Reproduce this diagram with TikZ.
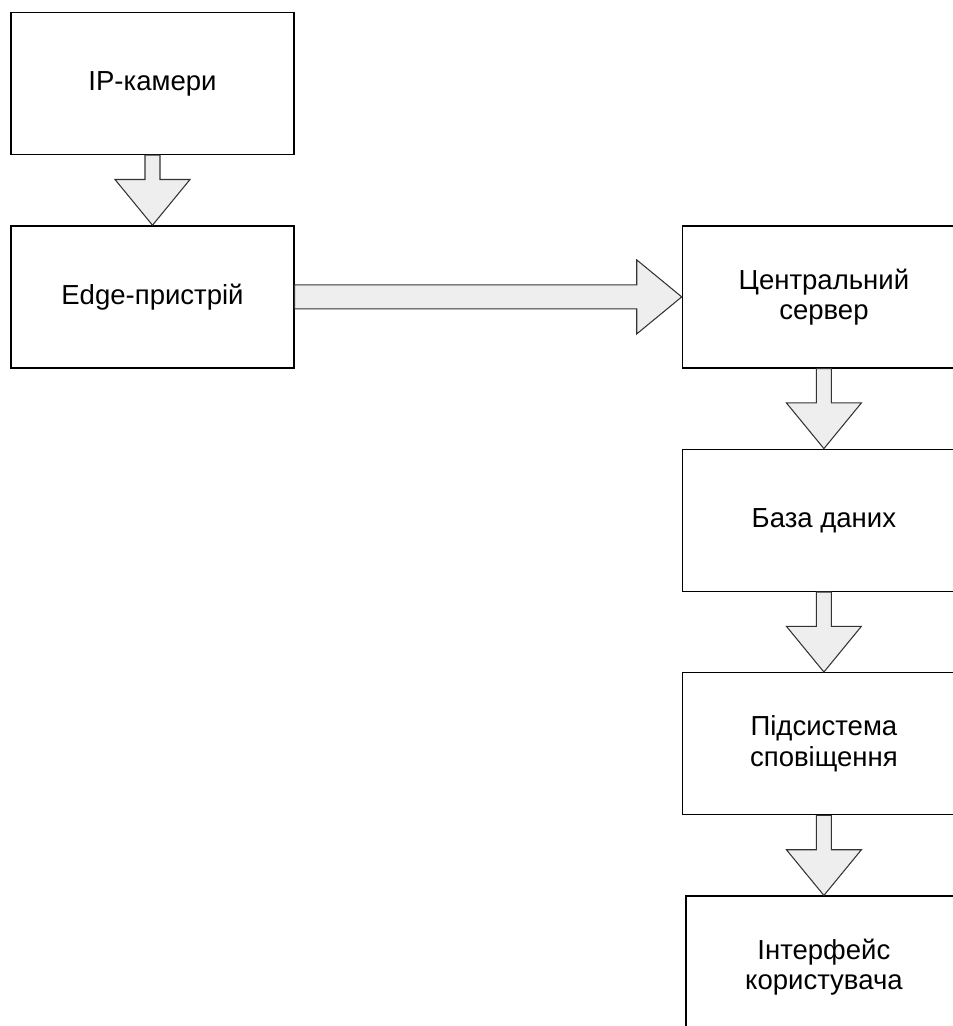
\documentclass[tikz,border=0pt]{standalone}
\usepackage{fontspec}
\setmainfont{Liberation Sans}
\usepackage{tikz}
\usetikzlibrary{positioning,calc}

\definecolor{arrowfill}{HTML}{EEEEEE}
\definecolor{arrowline}{HTML}{333333}

\begin{document}
\begin{tikzpicture}[node distance=2.4cm,font=\fontsize{23.5}{26}\selectfont]
\tikzstyle{block}=[draw=black,line width=1.2pt,fill=white,minimum width=8.49cm,minimum height=4.26cm,align=center,inner sep=0pt]
  \tikzstyle{fatdown}=[draw=arrowline,fill=arrowfill,line width=0.9pt,line join=miter,
    to path={let \p1=(\tikztostart), \p2=(\tikztotarget) in
      (\x1-6.4pt,\y1) -- (\x1-6.4pt,\y2+39pt) -- (\x1-32pt,\y2+39pt) -- (\x1,\y2)
      -- (\x1+32pt,\y2+39pt) -- (\x1+6.4pt,\y2+39pt) -- (\x1+6.4pt,\y1) -- cycle}]
  \tikzstyle{fatright}=[draw=arrowline,fill=arrowfill,line width=0.9pt,line join=miter,
    to path={let \p1=(\tikztostart), \p2=(\tikztotarget) in
      (\x1,\y1-10.2pt) -- (\x2-38.4pt,\y1-10.2pt) -- (\x2-38.4pt,\y1-31.6pt) -- (\x2,\y1)
      -- (\x2-38.4pt,\y1+31.6pt) -- (\x2-38.4pt,\y1+10.2pt) -- (\x1,\y1+10.2pt) -- cycle}]
%
\clip (0,0) rectangle (28.59,-30.78);
%
\node[block] (cams) at (4.575,-2.505) {IP-камери};
  \node[block] (edgedev) [below=2.1cm of cams] {Edge-пристрій};
  \node[block] (server) [right=11.61cm of edgedev] {Центральний\\сервер};
  \node[block] (db) [below=of server] {База даних};
  \node[block] (notify) [below=of db] {Підсистема\\сповіщення};
  \node[block,minimum width=8.28cm] (ui) [below=of notify] {Інтерфейс\\користувача};

  \draw[fatdown] (cams.south) to (edgedev.north);
  \draw[fatright] (edgedev.east) to (server.west);
  \draw[fatdown] (server.south) to (db.north);
  \draw[fatdown] (db.south) to (notify.north);
  \draw[fatdown] (notify.south) to (ui.north);
\end{tikzpicture}
\end{document}
